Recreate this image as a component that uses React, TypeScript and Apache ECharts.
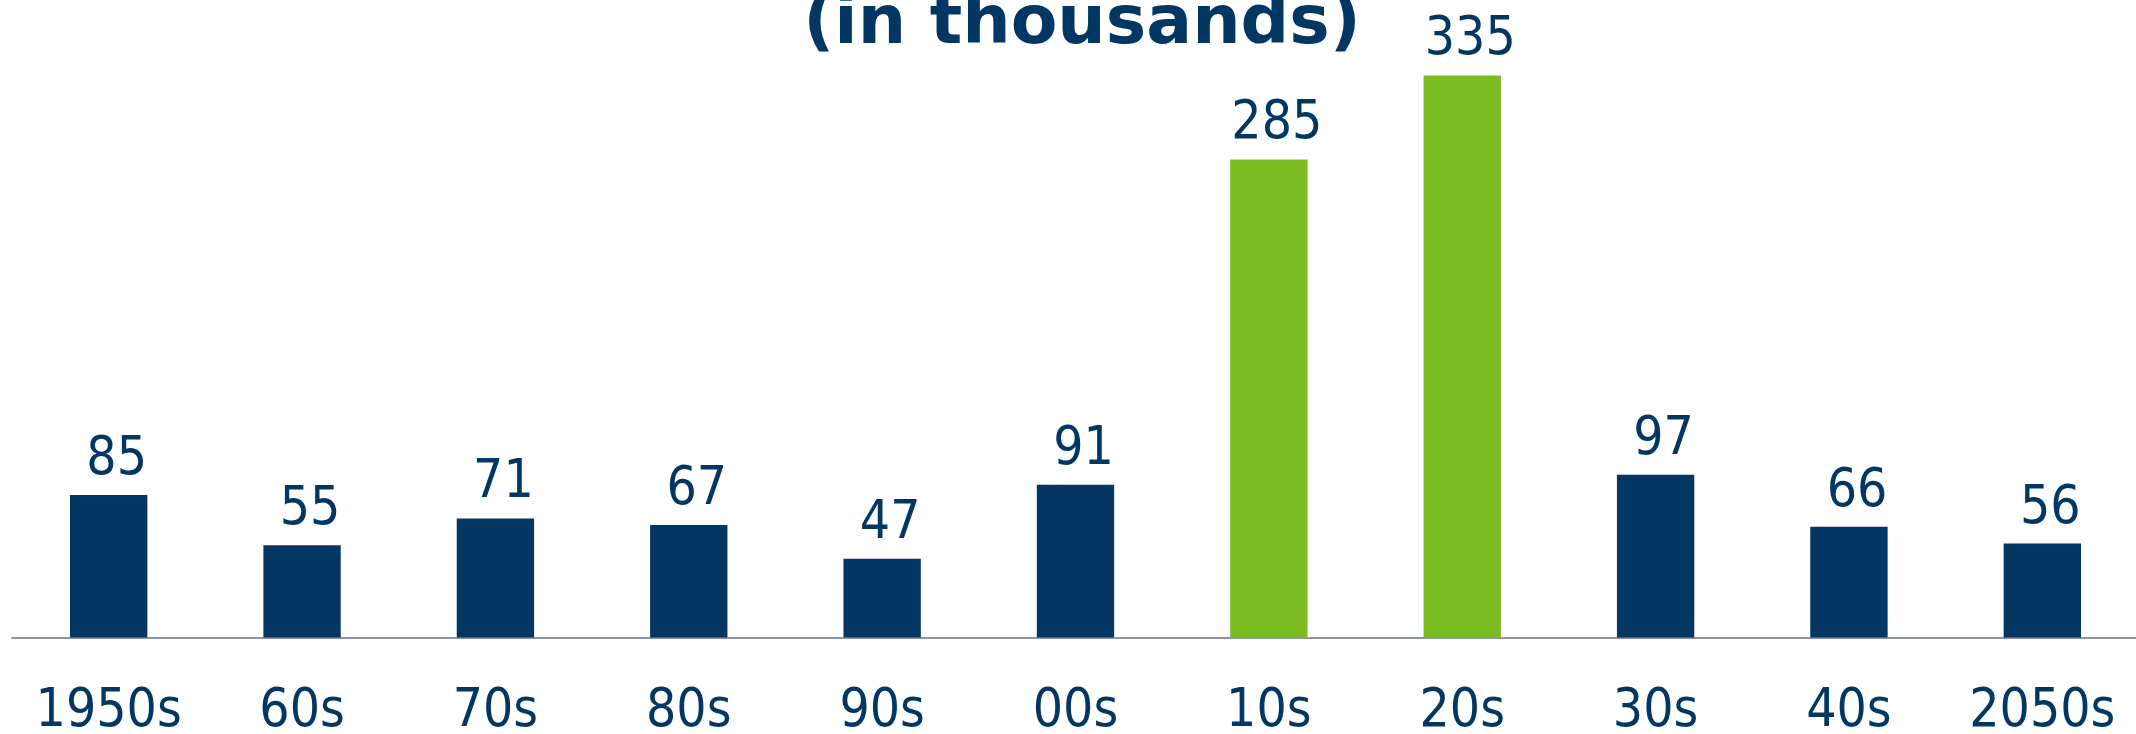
import React, { useEffect, useRef } from "react";
import * as echarts from "echarts";

const categories = ["1950s", "60s", "70s", "80s", "90s", "00s", "10s", "20s", "30s", "40s", "2050s"];
const values = [85, 55, 71, 67, 47, 91, 285, 335, 97, 66, 56];
const highlighted = [false, false, false, false, false, false, true, true, false, false, false];
const titleText = "(in thousands)";

const NAVY = "#023764";
const GREEN = "#7bbd21";
const FONT = "'DejaVu Sans Condensed', 'DejaVu Sans', sans-serif";

export default function App() {
  const ref = useRef<HTMLDivElement>(null);
  useEffect(() => {
    document.body.style.margin = "0";
    document.body.style.overflow = "hidden";
    const chart = echarts.init(ref.current!, undefined, { renderer: "svg" });
    chart.setOption({
      animation: false,
      backgroundColor: "#ffffff",
      graphic: [
        {
          type: "text",
          x: 1082,
          y: 19,
          style: {
            text: titleText,
            fill: NAVY,
            font: "bold 68px 'DejaVu Sans', sans-serif",
            align: "center",
            verticalAlign: "middle",
          },
        },
      ],
      grid: { left: 12, right: 0, top: 0, bottom: 96, containLabel: false },
      xAxis: {
        type: "category",
        data: categories,
        axisLine: { show: true, lineStyle: { color: "#8c96a8", width: 2 } },
        axisTick: { show: false },
        axisLabel: {
          color: NAVY,
          fontSize: 53,
          lineHeight: 50,
          fontFamily: FONT,
          margin: 45,
          interval: 0,
        },
      },
      yAxis: {
        type: "value",
        min: 0,
        max: 380,
        show: false,
        splitLine: { show: false },
      },
      series: [
        {
          type: "bar",
          barWidth: "40%",
          data: values.map((v, i) => ({
            value: v,
            itemStyle: { color: highlighted[i] ? GREEN : NAVY },
          })),
          label: {
            show: true,
            position: "top",
            distance: 13,
            offset: [8, 0],
            color: NAVY,
            fontSize: 53,
            fontFamily: FONT,
          },
        },
      ],
    });
    return () => chart.dispose();
  }, []);
  return (
    <div style={{ position: "absolute", left: 0, top: 0, width: 2136, height: 734, overflow: "hidden" }}>
      <div ref={ref} style={{ width: 2139, height: 734 }} />
    </div>
  );
}
